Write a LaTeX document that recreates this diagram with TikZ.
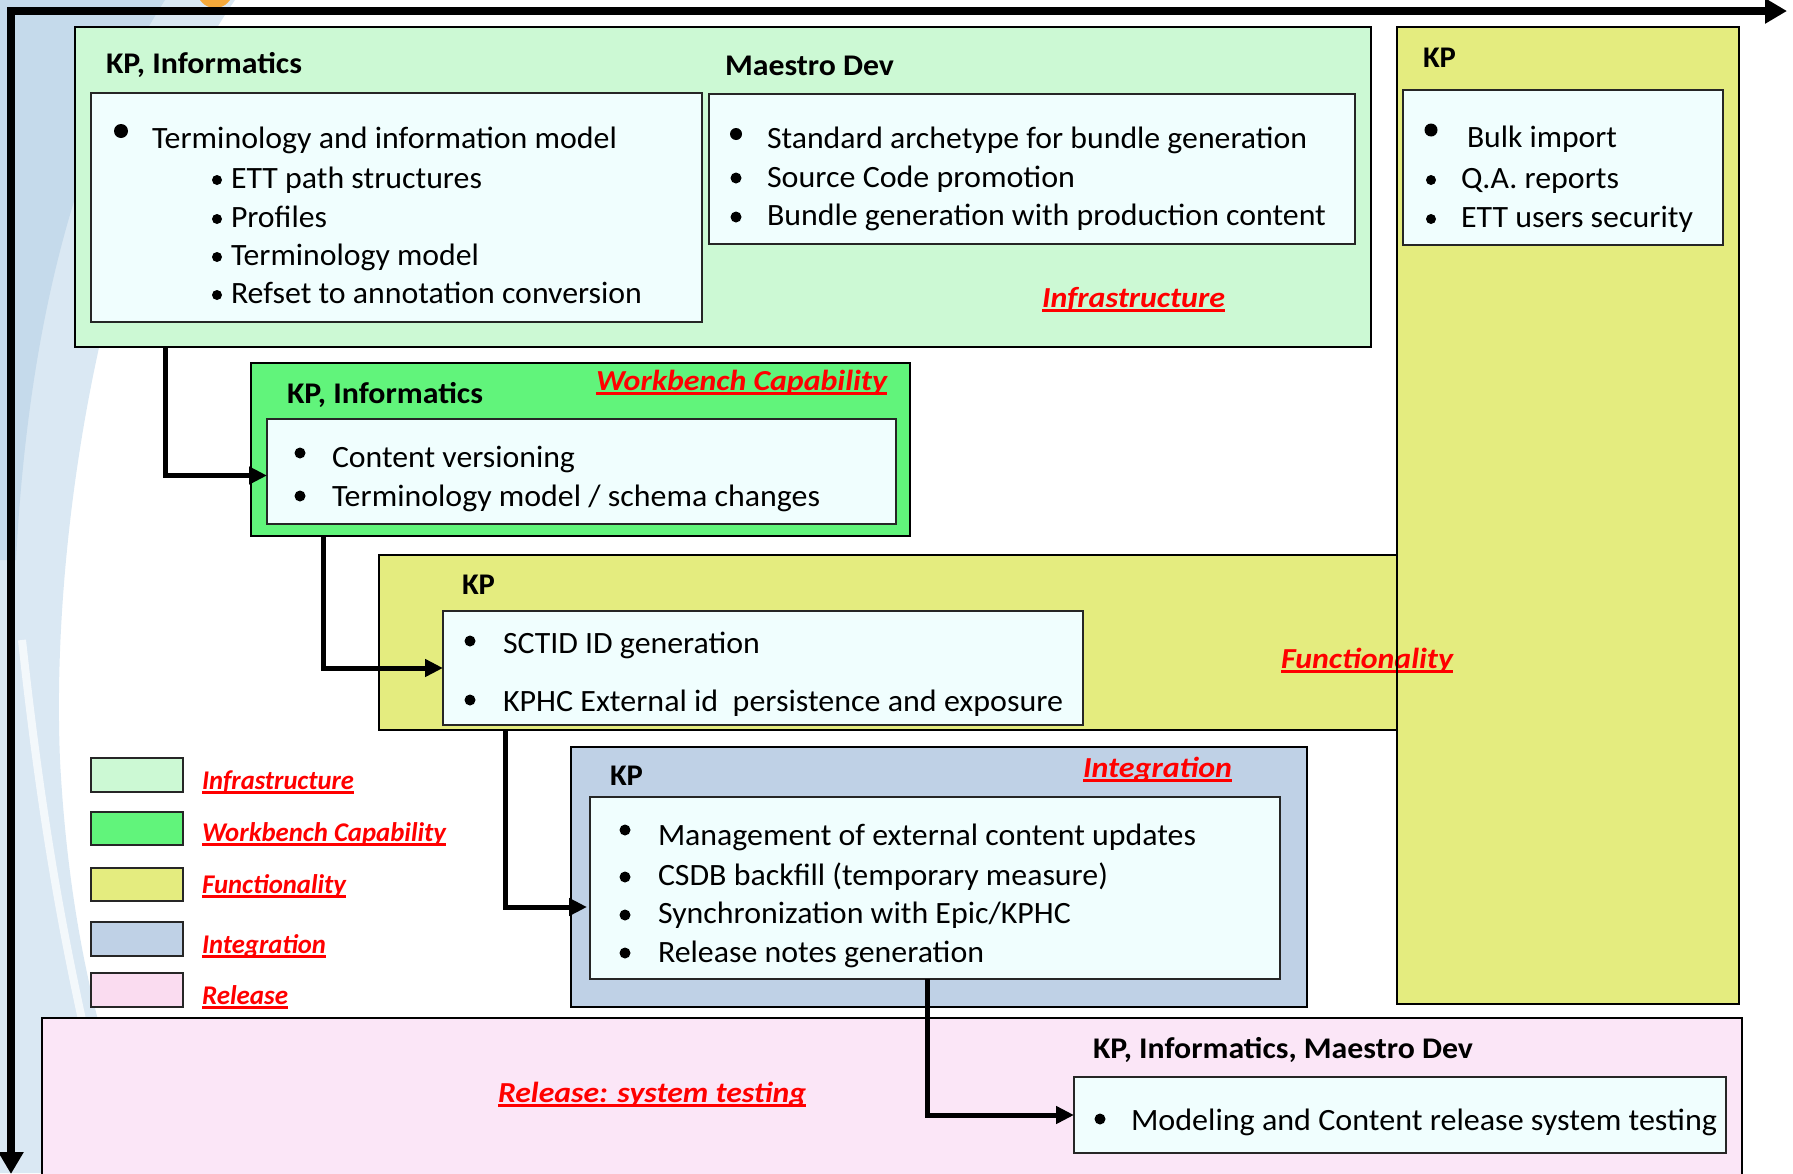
\documentclass[tikz,border=0pt]{standalone}
\usepackage{fontspec}
\setmainfont{Carlito}
\usepackage{graphicx}
\usetikzlibrary{arrows.meta,calc,fit}

\definecolor{infra}{RGB}{204,249,212}
\definecolor{wbench}{RGB}{97,244,123}
\definecolor{func}{RGB}{228,236,127}
\definecolor{integ}{RGB}{191,209,230}
\definecolor{rel}{RGB}{251,230,247}
\definecolor{relkey}{RGB}{250,220,240}
\definecolor{innerfill}{RGB}{240,254,254}
\definecolor{bgblue}{RGB}{197,218,235}
\definecolor{bglight}{RGB}{218,232,243}
\definecolor{dotorange}{RGB}{244,168,58}
\definecolor{lblred}{RGB}{255,0,0}

% set a text horizontally scaled to a given width (in pt), height untouched
\newsavebox\fitbox
\newcommand\fitw[2]{\sbox\fitbox{#2}\edef\fitwd{\the\wd\fitbox}%
  \pgfmathsetmacro\fitratio{#1/\fitwd}\scalebox{\fitratio}[1]{\usebox\fitbox}}
% thick red underline
\newsavebox\ulbox
\newcommand\redul[1]{\sbox\ulbox{#1}\rlap{\rule[-4.5pt]{\wd\ulbox}{2.6pt}}\usebox\ulbox}
% one line of text at a baseline position
\newcommand\tline[6]{\node[#1] (#2) at (#3,#4) {\fitw{#5}{#6}};}
% bullet disc
\newcommand\bu[4]{\node[bul=#4] (#1) at (#2,#3) {};}

\begin{document}
\begin{tikzpicture}[x=1pt,y=-1pt,
  outer/.style={draw=black, line width=2.4pt, inner sep=0, outer sep=0},
  inbox/.style={draw=black!85, line width=1.8pt, fill=innerfill, inner sep=0, outer sep=0},
  keybox/.style={draw=black!85, line width=2.2pt, inner sep=0, outer sep=0},
  bul/.style={circle, fill=black, inner sep=0, outer sep=0, minimum size=#1},
  txt/.style={anchor=base west, inner sep=0, outer sep=0, font=\fontsize{31}{37}\selectfont},
  hd/.style={anchor=base west, inner sep=0, outer sep=0, font=\fontsize{30}{36}\selectfont\bfseries},
  lab/.style={anchor=base west, inner sep=0, outer sep=0, text=lblred, font=\fontsize{29}{34}\selectfont\bfseries\itshape},
  keylab/.style={lab, font=\fontsize{27}{32}\selectfont\bfseries\itshape},
  axis/.style={line width=8pt, line join=miter, {Triangle[length=22pt,width=24pt]}-{Triangle[length=22pt,width=24pt]}},
  conn/.style={line width=5pt, -{Triangle[length=18pt,width=17pt]}}]

\useasboundingbox (0,0) rectangle (1793,1173);
\begin{scope}
\clip (0,0) rectangle (1793,1173);

% slide background swoosh
\fill[bglight] (0,0) -- (235,0) .. controls (110,180) and (50,520) .. (60,760)
  .. controls (70,950) and (110,1080) .. (150,1173) -- (0,1173) -- cycle;
\fill[bgblue] (0,0) -- (165,0) .. controls (75,140) and (28,330) .. (16,560) -- (0,560) -- cycle;
\draw[white, line width=8, opacity=0.7] (22,640) .. controls (45,850) and (70,980) .. (118,1173);
\fill[dotorange] (215,-10) circle (18);

% time axes
\coordinate (axbot) at (11,1174);
\coordinate (axright) at (1787,11);
\draw[axis] (axbot) |- (axright);

% ---------- Infrastructure ----------
\node[outer, fill=infra, fit={(75,27) (1371,347)}] (infra) {};
\node[inbox, fit={(91,93) (702,322)}] (in1) {};
\node[inbox, fit={(709,94) (1355,244)}] (in2) {};
\tline{hd}{h1}{106}{73}{196}{KP, Informatics}
\tline{hd}{h2}{725}{75}{169}{Maestro Dev}
\bu{b11}{121}{131}{14}
\tline{txt}{t11}{152}{148}{465}{Terminology and information model}
\bu{b12}{217}{180}{10}
\tline{txt}{t12}{231}{188}{251}{ETT path structures}
\bu{b13}{217}{219}{10}
\tline{txt}{t13}{231}{227}{96}{Profiles}
\bu{b14}{217}{257}{10}
\tline{txt}{t14}{231}{265}{248}{Terminology model}
\bu{b15}{217}{295}{10}
\tline{txt}{t15}{231}{303}{411}{Refset to annotation conversion}
\bu{b21}{736}{134}{12}
\tline{txt}{t21}{767}{148}{540}{Standard archetype for bundle generation}
\bu{b22}{736}{178}{11}
\tline{txt}{t22}{767}{187}{308}{Source Code promotion}
\bu{b23}{736}{217}{11}
\tline{txt}{t23}{767}{225}{559}{Bundle generation with production content}
\tline{lab}{l1}{1042}{307}{183}{\redul{Infrastructure}}

% ---------- KP column ----------
\node[outer, fill=func, fit={(1397,27) (1739,1004)}] (kpr) {};
\node[inbox, fit={(1403,90) (1723,245)}] (inr) {};
\tline{hd}{hr}{1423}{67}{33}{KP}
\bu{br1}{1431}{130}{13}
\tline{txt}{tr1}{1467}{147}{150}{Bulk import}
\bu{br2}{1431}{180}{10}
\tline{txt}{tr2}{1461}{188}{158}{Q.A. reports}
\bu{br3}{1431}{219}{10}
\tline{txt}{tr3}{1461}{227}{232}{ETT users security}

% ---------- Workbench Capability ----------
\node[outer, fill=wbench, fit={(251,363) (910,536)}] (wbench) {};
\node[inbox, fit={(267,419) (896,524)}] (wbin) {};
\tline{hd}{hw}{287}{403}{196}{KP, Informatics}
\tline{lab}{lw}{596}{390}{291}{\redul{Workbench Capability}}
\bu{bw1}{300}{453}{11}
\tline{txt}{tw1}{332}{467}{243}{Content versioning}
\bu{bw2}{300}{496}{11}
\tline{txt}{tw2}{332}{506}{488}{Terminology model / schema changes}

% ---------- Functionality ----------
\node[outer, fill=func, fit={(379,555) (1397,730)}] (func) {};
\node[inbox, fit={(443,611) (1083,725)}] (funin) {};
\tline{hd}{hf}{462}{594}{33}{KP}
\bu{bf1}{470}{641}{11}
\tline{txt}{tf1}{503}{653}{257}{SCTID ID generation}
\bu{bf2}{470}{700}{11}
\tline{txt}{tf2}{503}{711}{560}{KPHC External id\ \ persistence and exposure}
\tline{lab}{lf}{1281}{668}{172}{\redul{Functionality}}
\draw[line width=2.4pt] (kpr.north west) -- (kpr.south west);

% ---------- Integration ----------
\node[outer, fill=integ, fit={(571,747) (1307,1007)}] (integ) {};
\node[inbox, fit={(590,797) (1280,979)}] (intin) {};
\tline{hd}{hi}{610}{785}{33}{KP}
\tline{lab}{li}{1083}{777}{149}{\redul{Integration}}
\bu{bi1}{625}{830}{11}
\tline{txt}{ti1}{658}{845}{538}{Management of external content updates}
\bu{bi2}{625}{877}{11}
\tline{txt}{ti2}{658}{885}{450}{CSDB backfill (temporary measure)}
\bu{bi3}{625}{915}{11}
\tline{txt}{ti3}{658}{923}{413}{Synchronization with Epic/KPHC}
\bu{bi4}{625}{953}{11}
\tline{txt}{ti4}{658}{962}{326}{Release notes generation}

% ---------- Release ----------
\node[outer, fill=rel, fit={(42,1018) (1742,1195)}] (rel) {};
\node[inbox, fit={(1074,1077) (1726,1153)}] (relin) {};
\tline{hd}{hrel}{1093}{1058}{380}{KP, Informatics, Maestro Dev}
\tline{lab}{lrel}{498}{1102}{308}{\redul{Release: system testing}}
\bu{brel}{1100}{1119}{11}
\tline{txt}{trel}{1131}{1130}{586}{Modeling and Content release system testing}

% ---------- key ----------
\node[keybox, fill=infra, fit={(91,758) (183,792)}] (k1) {};
\node[keybox, fill=wbench, fit={(91,812) (183,845)}] (k2) {};
\node[keybox, fill=func, fit={(91,868) (183,901)}] (k3) {};
\node[keybox, fill=integ, fit={(91,922) (183,956)}] (k4) {};
\node[keybox, fill=relkey, fit={(91,973) (183,1007)}] (k5) {};
\tline{keylab}{kl1}{202}{789}{152}{\redul{Infrastructure}}
\tline{keylab}{kl2}{202}{841}{244}{\redul{Workbench Capability}}
\tline{keylab}{kl3}{202}{893}{144}{\redul{Functionality}}
\tline{keylab}{kl4}{202}{953}{124}{\redul{Integration}}
\tline{keylab}{kl5}{202}{1004}{86}{\redul{Release}}

% ---------- hand-offs ----------
\coordinate (c1) at ($(infra.south west)+(90,0)$);
\draw[conn] (c1) |- ($(wbin.west)+(0,4)$);
\coordinate (c2) at ($(wbench.south west)+(72,0)$);
\draw[conn] (c2) |- (funin.west);
\coordinate (c3) at ($(func.south west)+(126,0)$);
\draw[conn] (c3) |- ($(intin.west)+(-3,19)$);
\coordinate (c4) at ($(intin.south west)+(337,0)$);
\draw[conn] (c4) |- (relin.west);
\end{scope}
\end{tikzpicture}
\end{document}
